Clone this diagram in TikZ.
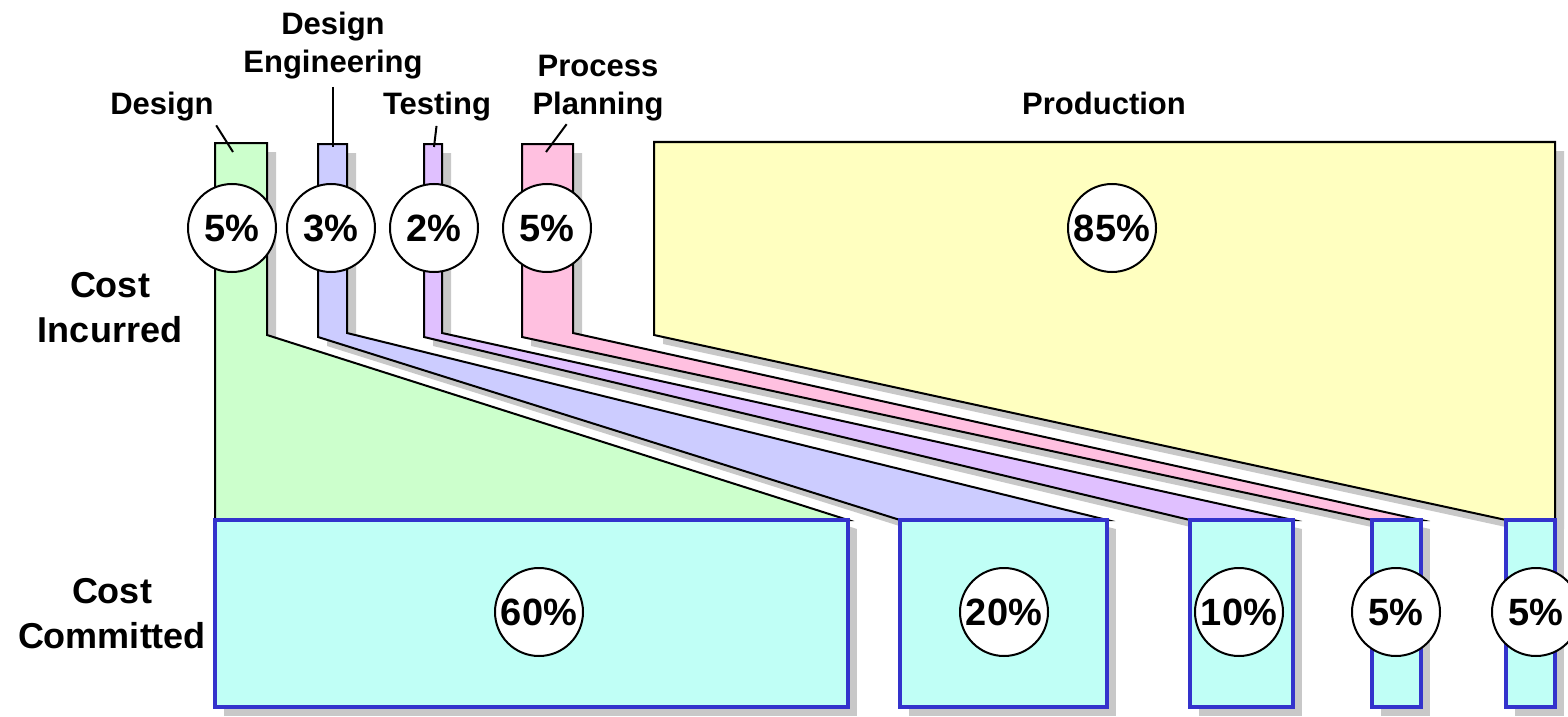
\documentclass[tikz,border=0pt]{standalone}
\usepackage{fontspec}
\setmainfont{Liberation Sans}
\definecolor{designfill}{HTML}{CCFFCC}
\definecolor{engfill}{HTML}{CCCCFF}
\definecolor{testfill}{HTML}{E0C0FF}
\definecolor{planfill}{HTML}{FFC0E0}
\definecolor{prodfill}{HTML}{FFFFC0}
\definecolor{commitfill}{HTML}{C0FFF6}
\definecolor{commitline}{HTML}{3333CC}
\definecolor{shadowgray}{HTML}{C8C8C8}

\begin{document}
\begin{tikzpicture}[x=0.5pt, y=-0.5pt, line join=miter,
  shadowed/.style={preaction={fill=shadowgray, draw=none, transform canvas={shift={(4.5pt,-4.5pt)}}}},
  band/.style={shadowed, draw=black, line width=1pt},
  commit/.style={shadowed, draw=commitline, line width=2pt, fill=commitfill},
  pct/.style={circle, draw=black, line width=1pt, fill=white, minimum size=44pt, inner sep=0pt, font=\fontsize{19}{19}\selectfont\bfseries},
  phase/.style={align=center, inner sep=0pt, anchor=base, font=\fontsize{15.5}{19}\selectfont\bfseries},
  side/.style={align=center, inner sep=0pt, anchor=base, font=\fontsize{18}{22.5}\selectfont\bfseries},
  leader/.style={line width=1pt, shorten <=2pt}]
\useasboundingbox (0,0) rectangle (1568,717);

% incurred bands running down to the committed boxes
\draw[band, fill=designfill] (215,143) -- (267,143) -- (267,335) -- (848,520) -- (215,520) -- cycle;
\draw[band, fill=engfill] (318,144) -- (347,144) -- (347,333) -- (1107,520) -- (900,520) -- (318,337) -- cycle;
\draw[band, fill=testfill] (424,144) -- (442,144) -- (442,333) -- (1293,520) -- (1190,520) -- (424,337) -- cycle;
\draw[band, fill=planfill] (522,144) -- (573,144) -- (573,333) -- (1421,520) -- (1372,520) -- (522,337) -- cycle;
\draw[band, fill=prodfill] (654,142) -- (1555,142) -- (1555,520) -- (1506,520) -- (654,335) -- cycle;

% committed boxes
\draw[commit] (215,520) rectangle (848,707);
\draw[commit] (900,520) rectangle (1107,707);
\draw[commit] (1190,520) rectangle (1293,707);
\draw[commit] (1372,520) rectangle (1421,707);
\draw[commit] (1506,520) rectangle (1555,707);

% percentages
\node[pct] (incDesign) at (232,228) {5\%};
\node[pct] (incEng) at (331,228) {3\%};
\node[pct] (incTest) at (434,228) {2\%};
\node[pct] (incPlan) at (547,228) {5\%};
\node[pct] (incProd) at (1112,228) {85\%};
\node[pct] (comDesign) at (539,612) {60\%};
\node[pct] (comEng) at (1004,612) {20\%};
\node[pct] (comTest) at (1239,612) {10\%};
\node[pct] (comPlan) at (1396,612) {5\%};
\node[pct] (comProd) at (1536,612) {5\%};

% phase names (base = last line)
\node[phase] (design) at (162,115) {Design};
\node[phase] (deng) at (333,73) {Design\\Engineering};
\node[phase] (testing) at (437,115) {Testing};
\node[phase] (pplan) at (598,114) {Process\\Planning};
\node[phase] (production) at (1104,115) {Production};
\node[side] (incurred) at (110,342) {Cost\\Incurred};
\node[side] (committed) at (112,648) {Cost\\Committed};

% leaders from the names to the bands
\coordinate (designTop) at (233,152);
\coordinate (engTop) at (333,147);
\coordinate (testTop) at (434,147);
\coordinate (planTop) at (546,152);
\draw[leader] (design.south east) -- (designTop);
\draw[leader, shorten <=3.5pt] (deng.south) -- (engTop);
\draw[leader] (testing.south) -- (testTop);
\draw[leader] ([xshift=-14.5pt]pplan.south) -- (planTop);
\end{tikzpicture}
\end{document}
